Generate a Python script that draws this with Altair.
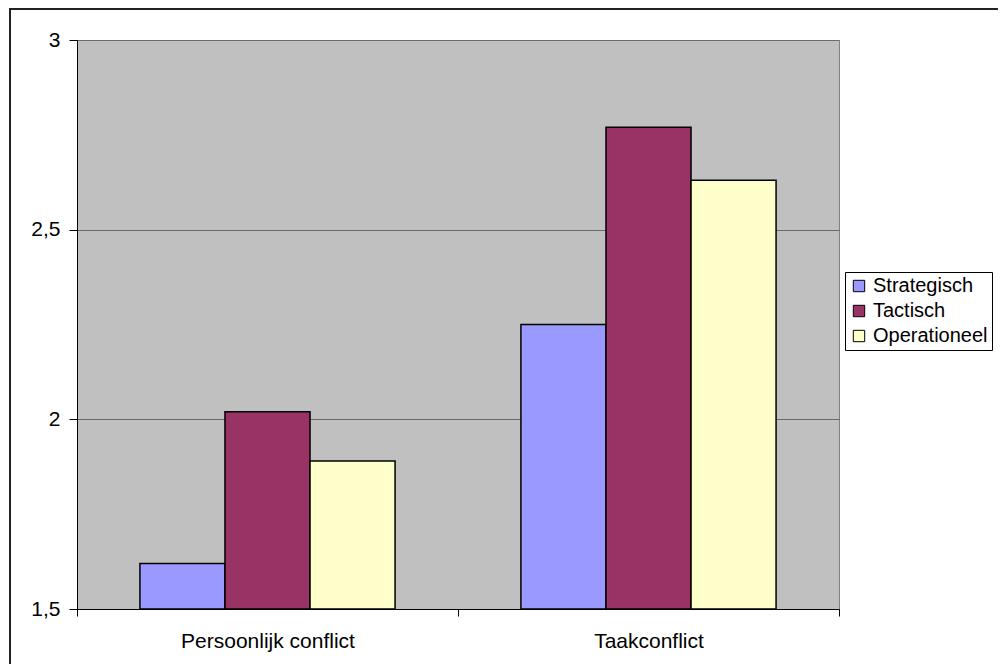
import altair as alt
import pandas as pd

categories = ["Persoonlijk conflict", "Taakconflict"]
series = ["Strategisch", "Tactisch", "Operationeel"]
strategisch = [1.62, 2.25]
tactisch = [2.02, 2.77]
operationeel = [1.89, 2.63]
colors = ["#9999FF", "#993366", "#FFFFCC"]
y_ticks = [1.5, 2.0, 2.5, 3.0]

rows = []
for i, c in enumerate(categories):
    for s, vals in zip(series, [strategisch, tactisch, operationeel]):
        rows.append({"categorie": c, "reeks": s, "waarde": vals[i]})
df = pd.DataFrame(rows)

FONT = "Liberation Sans"
W, H = 762, 569

frame = alt.Chart(pd.DataFrame({"a": [0]})).mark_rect(
    fill=None, stroke="#222222", strokeWidth=2
).encode(
    x=alt.value(-67), x2=alt.value(W + 170),
    y=alt.value(-31), y2=alt.value(H + 70)
)

bars = alt.Chart(df).mark_bar(stroke="black", strokeWidth=1.5).encode(
    x=alt.X("categorie:N", sort=categories, title=None,
            scale=alt.Scale(paddingInner=0, paddingOuter=0),
            axis=alt.Axis(labelAngle=0, labelFontSize=21, labelFont=FONT,
                          labelColor="black", labelPadding=14,
                          tickBand="extent", tickSize=7, tickColor="black",
                          domainColor="black", grid=False)),
    xOffset=alt.XOffset("reeks:N", sort=series,
                        scale=alt.Scale(paddingInner=0, paddingOuter=0.74)),
    y=alt.Y("waarde:Q", title=None,
            scale=alt.Scale(domain=[1.5, 3], zero=False, nice=False),
            axis=alt.Axis(values=y_ticks,
                          labelExpr="replace(toString(datum.value), '.', ',')",
                          labelFontSize=21, labelFont=FONT, labelColor="black",
                          labelPadding=9, tickSize=8, tickColor="black",
                          domainColor="black", grid=True, gridColor="#6a6a6a",
                          gridWidth=1)),
    y2=alt.datum(1.5),
    color=alt.Color("reeks:N", sort=series,
                    scale=alt.Scale(domain=series, range=colors),
                    legend=alt.Legend(title=None, orient="none", legendX=768,
                                      legendY=232, strokeColor="black",
                                      fillColor="white", padding=4,
                                      symbolType="square", symbolSize=130,
                                      symbolStrokeColor="black",
                                      symbolStrokeWidth=1,
                                      labelFontSize=20, labelFont=FONT,
                                      labelColor="black", rowPadding=5,
                                      labelOffset=4))
)

chart = alt.layer(frame, bars).properties(
    width=W, height=H,
    autosize=alt.AutoSizeParams(type="none"),
    padding={"left": 69, "top": 32, "right": 159, "bottom": 55},
    background="white"
).configure_view(fill="#C0C0C0", stroke="#808080", strokeWidth=1)

chart.save("out.html", embed_options={"renderer": "svg", "actions": False})
